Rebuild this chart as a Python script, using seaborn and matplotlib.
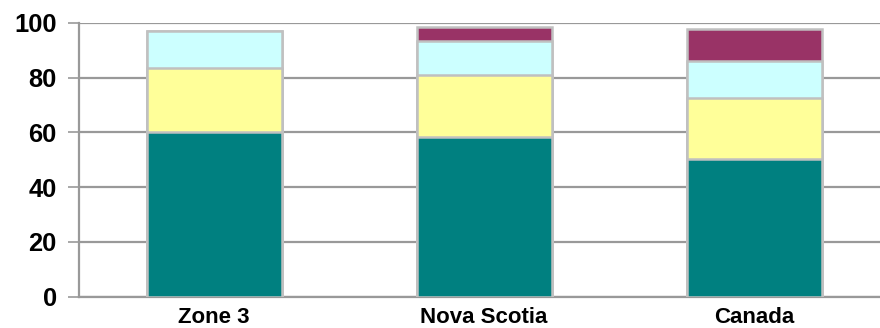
import numpy as np
import pandas as pd
import matplotlib
matplotlib.use("Agg")
import matplotlib.pyplot as plt
import seaborn as sns

# Regions and stacked segment values (percent)
regions = ["Zone 3", "Nova Scotia", "Canada"]
seg_teal = [60.0, 58.3, 50.2]
seg_yellow = [23.7, 22.7, 22.5]
seg_cyan = [13.5, 12.6, 13.4]
seg_maroon = [0.0, 4.8, 11.6]
y_ticks = [0, 20, 40, 60, 80, 100]

segments = [seg_teal, seg_yellow, seg_cyan, seg_maroon]
colors = ["#008080", "#FFFF99", "#CCFFFF", "#993366"]

sns.set_theme(style="white")
plt.rcParams["font.family"] = ["Liberation Sans", "DejaVu Sans"]

fig = plt.figure(figsize=(8.8, 3.28), dpi=100)
ax = fig.add_axes([79 / 880, 31.5 / 328, 810 / 880, 273.5 / 328])

# cumulative tops so each layer is drawn as a bar from zero, top layer first
cum = np.cumsum(np.array(segments), axis=0)
for i in range(len(segments) - 1, -1, -1):
    df = pd.DataFrame({"region": regions, "value": cum[i]})
    sns.barplot(data=df, x="region", y="value", order=regions, color=colors[i],
                saturation=1, width=0.5, edgecolor="#C0C0C0", linewidth=1.8,
                ax=ax, zorder=3)

ax.set_ylim(0, 100)
ax.set_xlim(-0.5, 2.5)
ax.set_yticks(y_ticks)
ax.yaxis.grid(True, color="#999999", linewidth=1.6, zorder=0)
ax.set_axisbelow(True)
ax.set_xlabel("")
ax.set_ylabel("")
for s in ["top", "right"]:
    ax.spines[s].set_visible(False)
ax.spines["left"].set_color("#999999")
ax.spines["left"].set_linewidth(1.6)
ax.spines["bottom"].set_color("#999999")
ax.spines["bottom"].set_linewidth(1.6)
ax.tick_params(axis="y", left=True, length=8, width=1.2, color="#999999",
               pad=8, labelsize=18.4)
ax.tick_params(axis="x", bottom=False, pad=1.5, labelsize=16)
for lab in ax.get_yticklabels() + ax.get_xticklabels():
    lab.set_fontweight("bold")
    lab.set_color("black")

fig.savefig("out.png", dpi=100)
